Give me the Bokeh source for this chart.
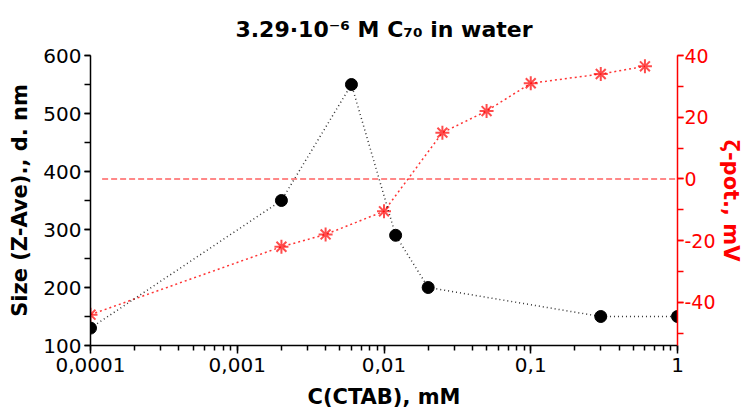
from bokeh.plotting import figure
from bokeh.models import (LinearAxis, Range1d, SingleIntervalTicker,
                          CustomJSTickFormatter, LogTicker)
from bokeh.embed import file_html
from bokeh.resources import INLINE

# ---- data ----
size_x = [0.0001, 0.002, 0.006, 0.012, 0.02, 0.3, 1.0]
size_y = [130, 350, 550, 290, 200, 150, 150]

zeta_x = [0.0001, 0.002, 0.004, 0.01, 0.025, 0.05, 0.1, 0.3, 0.6]
zeta_y = [-44, -22, -18, -10.5, 15, 22, 31, 34, 36.5]

zero_x = [0.00012, 1.0]
zero_y = [0, 0]

title_text = "3.29·10⁻⁶ M C₇₀ in water"
x_label = "C(CTAB), mM"
y_label = "Size (Z-Ave)., d. nm"
y2_label = "ζ-pot., mV"

FONT = "DejaVu Sans"
TICK_FS = "20px"
LABEL_FS = "21px"

p = figure(width=745, height=414, x_axis_type="log",
           x_range=Range1d(0.0001, 1), y_range=Range1d(100, 600),
           output_backend="svg", toolbar_location=None,
           min_border_left=90, min_border_right=60,
           min_border_top=55, min_border_bottom=69)
p.extra_y_ranges = {"zeta": Range1d(-54, 40)}

p.title.text = title_text
p.title.align = "center"
p.title.text_font = FONT
p.title.text_font_size = "22px"
p.title.text_font_style = "bold"
p.title.text_color = "black"
p.title.standoff = 27

p.xgrid.visible = False
p.ygrid.visible = False
p.outline_line_color = None
p.background_fill_color = "white"
p.border_fill_color = "white"

# x axis
xa = p.xaxis[0]
xa.ticker = LogTicker(num_minor_ticks=10)
xa.formatter = CustomJSTickFormatter(code="""
const e = Math.round(Math.log10(tick));
if (e >= 0) { return String(Math.round(tick)); }
return '0,' + '0'.repeat(-e - 1) + '1';
""")
xa.axis_label = x_label

# left axis
ya = p.yaxis[0]
ya.ticker = SingleIntervalTicker(interval=100, num_minor_ticks=2)
ya.axis_label = y_label

for ax in (xa, ya):
    ax.axis_line_color = "black"
    ax.axis_line_width = 1.5
    ax.major_tick_line_color = "black"
    ax.minor_tick_line_color = "black"
    ax.major_tick_line_width = 1.5
    ax.minor_tick_line_width = 1.5
    ax.major_tick_in = 0
    ax.minor_tick_in = 0
    ax.major_label_text_font = FONT
    ax.major_label_text_font_size = TICK_FS
    ax.major_label_text_color = "black"
    ax.axis_label_text_font = FONT
    ax.axis_label_text_font_size = LABEL_FS
    ax.axis_label_text_font_style = "bold"
    ax.axis_label_text_color = "black"
xa.major_tick_out = 8
xa.minor_tick_out = 5
xa.major_label_standoff = 4
xa.axis_label_standoff = 10
ya.major_tick_out = 6
ya.minor_tick_out = 6
ya.major_label_standoff = 3
ya.axis_label_standoff = 8

# right axis
ra = LinearAxis(y_range_name="zeta", axis_label=y2_label,
                ticker=SingleIntervalTicker(interval=20, num_minor_ticks=2))
ra.formatter = CustomJSTickFormatter(code="return tick.toFixed(0);")
ra.axis_line_color = "red"
ra.axis_line_width = 1.5
ra.major_tick_line_color = "red"
ra.minor_tick_line_color = "red"
ra.major_tick_line_width = 1.5
ra.minor_tick_line_width = 1.5
ra.major_tick_in = 0
ra.minor_tick_in = 0
ra.major_tick_out = 6
ra.minor_tick_out = 6
ra.major_label_standoff = 1
ra.major_label_text_font = FONT
ra.major_label_text_font_size = "19px"
ra.major_label_text_color = "red"
ra.axis_label_text_font = FONT
ra.axis_label_text_font_size = LABEL_FS
ra.axis_label_text_font_style = "bold"
ra.axis_label_text_color = "red"
ra.axis_label_standoff = 0
p.add_layout(ra, "right")

# zero dashed line
p.line(zero_x, zero_y, y_range_name="zeta", line_color="#ff5050",
       line_width=1.5, line_dash="6 3", line_alpha=0.9)

# zeta series
p.line(zeta_x, zeta_y, y_range_name="zeta", line_color="red",
       line_width=1.5, line_dash="2 3", line_alpha=0.8)
p.scatter(zeta_x, zeta_y, y_range_name="zeta", marker="asterisk", size=14,
          line_color="red", line_width=2, line_alpha=0.7)

# size series
p.line(size_x, size_y, line_color="black", line_width=1.5, line_dash="1 3",
       line_alpha=0.8)
p.scatter(size_x, size_y, marker="circle", size=12, fill_color="black",
          line_color="black")

open("out.html", "w").write(file_html(p, INLINE))
